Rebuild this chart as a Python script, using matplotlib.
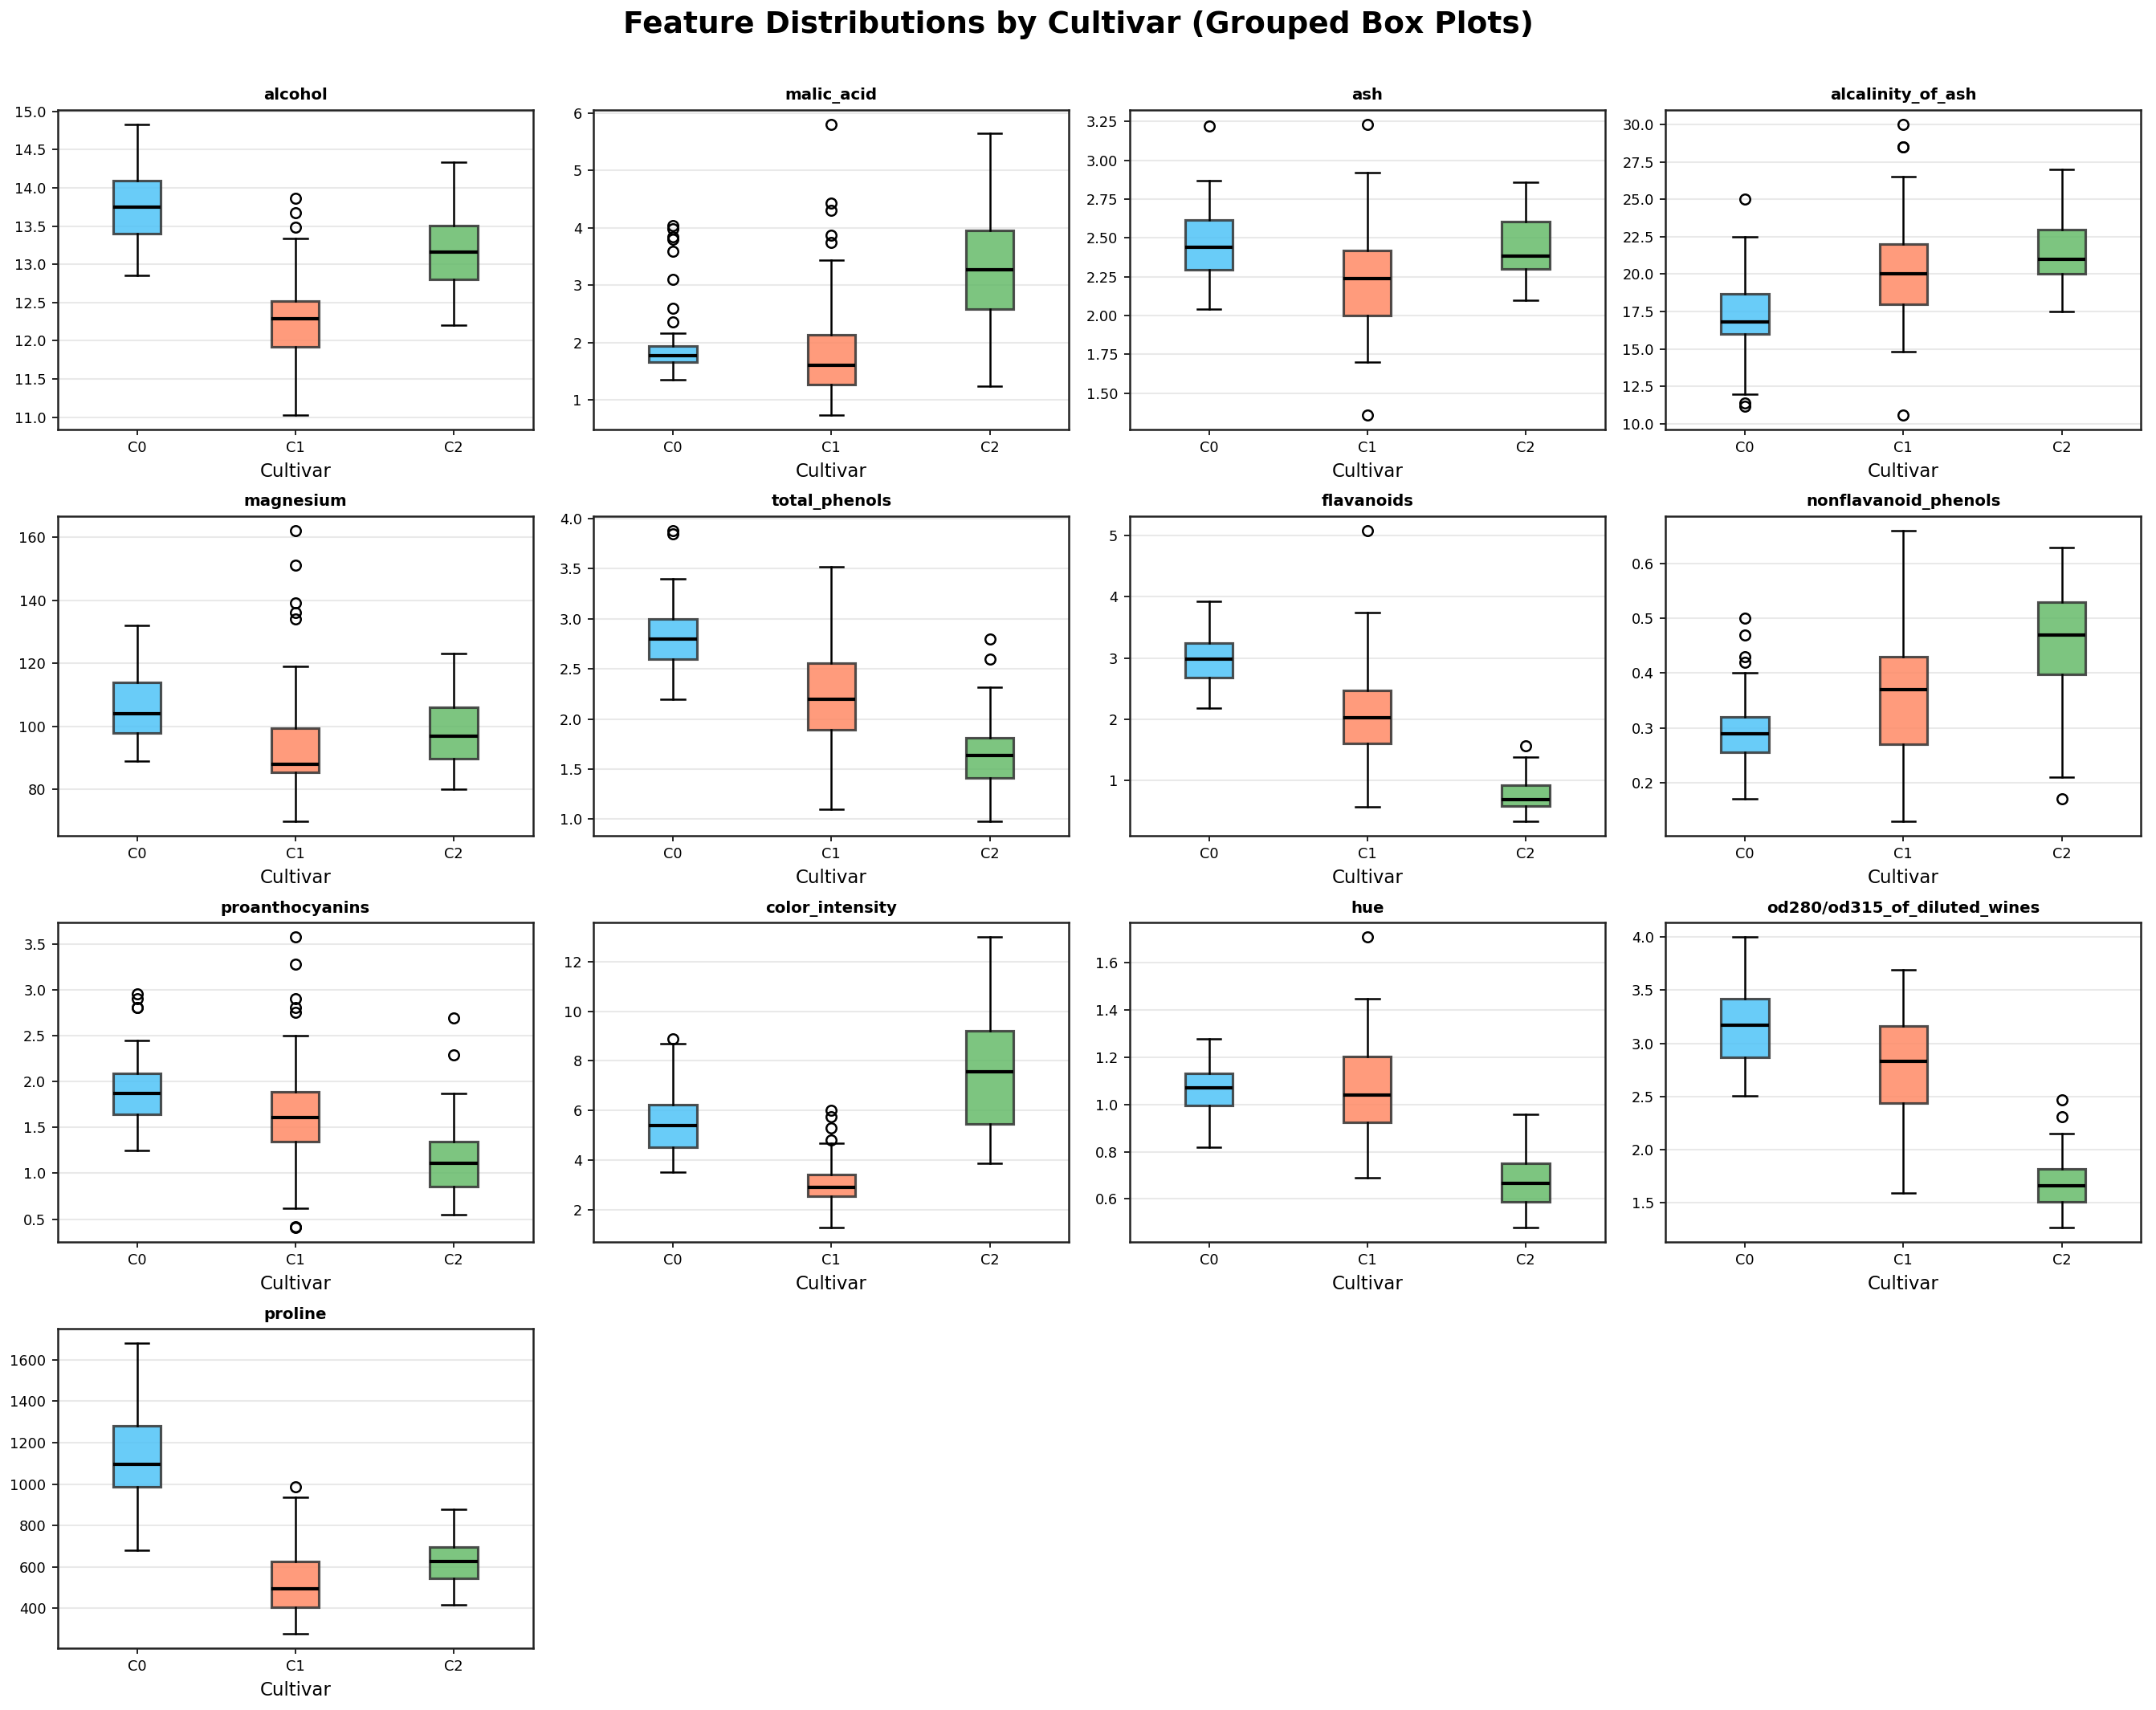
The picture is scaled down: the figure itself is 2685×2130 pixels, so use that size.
import matplotlib
matplotlib.use("Agg")
import matplotlib.pyplot as plt

cultivars = ["C0", "C1", "C2"]
features = ["alcohol", "malic_acid", "ash", "alcalinity_of_ash", "magnesium",
            "total_phenols", "flavanoids", "nonflavanoid_phenols", "proanthocyanins",
            "color_intensity", "hue", "od280/od315_of_diluted_wines", "proline"]

# per feature: [whislo, q1, median, q3, whishi] for C0, C1, C2
alcohol = [[12.85, 13.40, 13.75, 14.10, 14.83], [11.03, 11.915, 12.29, 12.515, 13.34], [12.20, 12.805, 13.165, 13.505, 14.34]]
alcohol_out = [[], [13.49, 13.67, 13.86], []]

malic_acid = [[1.35, 1.665, 1.77, 1.935, 2.16], [0.74, 1.27, 1.61, 2.135, 3.43], [1.24, 2.5875, 3.265, 3.9575, 5.65]]
malic_acid_out = [[2.36, 2.59, 3.10, 3.59, 3.80, 3.84, 3.98, 4.04], [3.74, 3.87, 4.30, 4.43, 5.80], []]

ash = [[2.04, 2.295, 2.44, 2.615, 2.87], [1.70, 2.00, 2.24, 2.42, 2.92], [2.10, 2.30, 2.38, 2.6025, 2.86]]
ash_out = [[3.22], [3.23, 1.36], []]

alcalinity_of_ash = [[12.0, 16.0, 16.8, 18.7, 22.5], [14.8, 18.0, 20.0, 22.0, 26.5], [17.5, 20.0, 21.0, 23.0, 27.0]]
alcalinity_of_ash_out = [[25.0, 11.2, 11.4], [28.5, 28.5, 30.0, 10.6], []]

magnesium = [[89, 98, 104, 114, 132], [70, 85.5, 88, 99.5, 119], [80, 89.75, 97, 106, 123]]
magnesium_out = [[], [134, 136, 139, 151, 162], []]

total_phenols = [[2.20, 2.60, 2.80, 3.00, 3.40], [1.10, 1.895, 2.20, 2.56, 3.52], [0.98, 1.4075, 1.635, 1.81, 2.32]]
total_phenols_out = [[3.85, 3.88], [], [2.60, 2.80]]

flavanoids = [[2.19, 2.68, 2.98, 3.245, 3.93], [0.57, 1.605, 2.03, 2.475, 3.75], [0.34, 0.58, 0.685, 0.92, 1.39]]
flavanoids_out = [[], [5.08], [1.57]]

nonflavanoid_phenols = [[0.17, 0.255, 0.29, 0.32, 0.40], [0.13, 0.27, 0.37, 0.43, 0.66], [0.21, 0.3975, 0.47, 0.53, 0.63]]
nonflavanoid_phenols_out = [[0.42, 0.43, 0.47, 0.50], [], [0.17]]

proanthocyanins = [[1.25, 1.64, 1.87, 2.09, 2.45], [0.62, 1.35, 1.61, 1.885, 2.50], [0.55, 0.855, 1.105, 1.35, 1.87]]
proanthocyanins_out = [[2.81, 2.81, 2.91, 2.96], [2.76, 2.81, 2.91, 3.28, 3.58, 0.41, 0.42], [2.29, 2.70]]

color_intensity = [[3.52, 4.50, 5.40, 6.225, 8.70], [1.28, 2.535, 2.90, 3.405, 4.68], [3.85, 5.4375, 7.55, 9.225, 13.0]]
color_intensity_out = [[8.90], [4.80, 5.30, 5.75, 6.00], []]

hue = [[0.82, 0.9975, 1.07, 1.1325, 1.28], [0.69, 0.925, 1.04, 1.205, 1.45], [0.48, 0.5875, 0.665, 0.7525, 0.96]]
hue_out = [[], [1.71], []]

od280 = [[2.51, 2.87, 3.17, 3.42, 4.00], [1.59, 2.44, 2.83, 3.16, 3.69], [1.27, 1.51, 1.66, 1.82, 2.15]]
od280_out = [[], [], [2.31, 2.47]]

proline = [[680, 987.5, 1095, 1280, 1680], [278, 406.5, 495, 625, 937], [415, 545, 627.5, 695, 880]]
proline_out = [[], [985], []]

stats_list = [alcohol, malic_acid, ash, alcalinity_of_ash, magnesium, total_phenols,
              flavanoids, nonflavanoid_phenols, proanthocyanins, color_intensity, hue, od280, proline]
out_list = [alcohol_out, malic_acid_out, ash_out, alcalinity_of_ash_out, magnesium_out,
            total_phenols_out, flavanoids_out, nonflavanoid_phenols_out, proanthocyanins_out,
            color_intensity_out, hue_out, od280_out, proline_out]

colors = ["#4FC3F7", "#FF8A65", "#66BB6A"]

fig, axes = plt.subplots(4, 4, figsize=(17.9, 14.2), dpi=150)
fig.subplots_adjust(left=0.0268, right=0.993, top=0.9357, bottom=0.0362, wspace=0.128, hspace=0.272)
axes = axes.ravel()

for i, feat in enumerate(features):
    ax = axes[i]
    bstats = []
    for j, c in enumerate(cultivars):
        lo, q1, med, q3, hi = stats_list[i][j]
        bstats.append(dict(label=c, whislo=lo, q1=q1, med=med, q3=q3, whishi=hi,
                           fliers=out_list[i][j]))
    bp = ax.bxp(bstats, positions=[1, 2, 3], widths=0.3, patch_artist=True, showfliers=True,
                medianprops=dict(color="black", linewidth=2),
                whiskerprops=dict(color="black", linewidth=1.2),
                capprops=dict(color="black", linewidth=1.2),
                flierprops=dict(marker="o", markerfacecolor="none", markeredgecolor="black",
                                markersize=6, markeredgewidth=1.2),
                boxprops=dict(edgecolor="#333333", linewidth=1.5))
    for patch, col in zip(bp["boxes"], colors):
        patch.set_facecolor(col)
        patch.set_alpha(0.85)
    ax.set_xlim(0.5, 3.5)
    ax.set_title(feat, fontsize=9.5, fontweight="bold")
    ax.set_xlabel("Cultivar", fontsize=11)
    ax.tick_params(labelsize=8.5)
    ax.yaxis.grid(True, color="#e0e0e0", alpha=0.7, linewidth=1)
    ax.set_axisbelow(True)
    for s in ax.spines.values():
        s.set_color("#222222")
        s.set_linewidth(1.2)

for k in range(len(features), 16):
    axes[k].axis("off")

fig.suptitle("Feature Distributions by Cultivar (Grouped Box Plots)", fontsize=18,
             fontweight="bold", y=0.994)
fig.savefig("out.png", dpi=150)
